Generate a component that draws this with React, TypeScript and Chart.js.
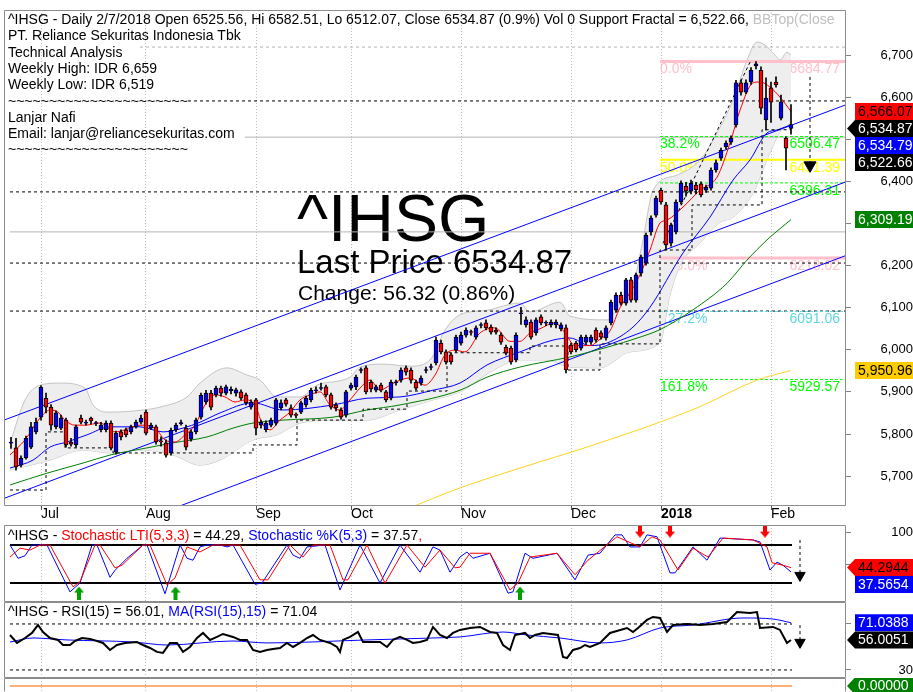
import React, { useEffect, useRef } from "react";
import { Chart, registerables } from "chart.js";

Chart.register(...registerables);

const FONT = "'Liberation Sans', Arial, Helvetica, sans-serif";
const W = 913;
const AXIS_W = 67;
const X_MIN = -1.4;
const X_MAX = 167;

// ---------- x axis (trading-day index) ----------
const monthTicks = [6, 27, 49, 68, 90, 112, 130, 152];
const monthLabels = ["Jul", "Aug", "Sep", "Oct", "Nov", "Dec", "2018", "Feb"];
const priceTicks = [5700, 5800, 5900, 6000, 6100, 6200, 6300, 6400, 6500, 6600, 6700];

// ---------- daily candles ----------
const opens = [
  5778, 5767, 5726, 5743, 5769, 5805, 5840, 5885, 5864, 5817,
  5814, 5833, 5781, 5774, 5838, 5826, 5838, 5825, 5810, 5810,
  5826, 5757, 5805, 5810, 5805, 5817, 5828, 5852, 5814, 5817,
  5784, 5779, 5755, 5810, 5824, 5814, 5788, 5805, 5840, 5876,
  5897, 5893, 5909, 5897, 5903, 5897, 5900, 5893, 5864, 5881,
  5821, 5810, 5821, 5826, 5862, 5881, 5862, 5847, 5852, 5869,
  5881, 5903, 5908, 5912, 5893, 5869, 5857, 5845, 5909, 5912,
  5951, 5957, 5923, 5904, 5916, 5900, 5885, 5922, 5928, 5957,
  5952, 5923, 5921, 5951, 5958, 5969, 6016, 5995, 5988, 5999,
  6016, 6035, 6043, 6030, 6058, 6064, 6054, 6047, 6035, 6006,
  6004, 5976, 6086, 6059, 6066, 6040, 6078, 6063, 6059, 6059,
  6050, 6052, 6011, 6016, 6004, 6018, 6018, 6047, 6040, 6028,
  6064, 6094, 6130, 6111, 6166, 6118, 6182, 6206, 6280, 6320,
  6379, 6344, 6253, 6280, 6351, 6389, 6377, 6391, 6394, 6379,
  6384, 6427, 6455, 6482, 6493, 6534, 6634, 6612, 6636, 6674,
  6664, 6546, 6622, 6636, 6550, 6503, 6525.56,
];
const highs = [
  5792, 5790, 5748, 5795, 5828, 5838, 5915, 5897, 5870, 5855,
  5845, 5838, 5790, 5821, 5845, 5833, 5840, 5830, 5828, 5831,
  5831, 5807, 5810, 5814, 5821, 5833, 5845, 5857, 5826, 5821,
  5793, 5786, 5814, 5826, 5833, 5821, 5810, 5838, 5897, 5904,
  5904, 5914, 5914, 5916, 5912, 5909, 5905, 5897, 5881, 5885,
  5833, 5831, 5838, 5885, 5881, 5885, 5869, 5850, 5878, 5890,
  5909, 5912, 5921, 5916, 5897, 5874, 5862, 5904, 5921, 5940,
  5957, 5962, 5928, 5916, 5921, 5904, 5928, 5928, 5957, 5962,
  5957, 5928, 5938, 5959, 5966, 6030, 6023, 6000, 5992, 6035,
  6042, 6052, 6047, 6057, 6064, 6071, 6059, 6052, 6040, 6011,
  6009, 6040, 6101, 6078, 6071, 6076, 6083, 6069, 6071, 6071,
  6064, 6059, 6016, 6020, 6035, 6035, 6035, 6052, 6045, 6057,
  6118, 6135, 6137, 6170, 6172, 6182, 6225, 6277, 6318, 6365,
  6384, 6350, 6301, 6356, 6401, 6398, 6403, 6398, 6399, 6391,
  6432, 6451, 6479, 6496, 6508, 6640, 6641, 6641, 6670, 6684.77,
  6672, 6646, 6636, 6648, 6605, 6506, 6582.51,
];
const lows = [
  5766, 5714, 5722, 5740, 5765, 5800, 5833, 5850, 5809, 5812,
  5810, 5769, 5771, 5769, 5824, 5821, 5824, 5820, 5805, 5805,
  5762, 5752, 5786, 5793, 5800, 5814, 5824, 5798, 5810, 5776,
  5771, 5745, 5750, 5805, 5821, 5762, 5783, 5800, 5835, 5871,
  5857, 5888, 5890, 5893, 5895, 5890, 5881, 5869, 5859, 5798,
  5814, 5805, 5817, 5821, 5857, 5866, 5840, 5838, 5848, 5864,
  5876, 5897, 5904, 5888, 5859, 5855, 5835, 5840, 5904, 5905,
  5945, 5895, 5900, 5900, 5900, 5876, 5881, 5916, 5923, 5940,
  5921, 5904, 5916, 5945, 5952, 5964, 5990, 5966, 5966, 5995,
  6011, 6030, 6035, 6025, 6052, 6047, 6037, 6037, 6013, 5988,
  5966, 5971, 6060, 6054, 6025, 6035, 6059, 6057, 6054, 6052,
  6045, 5945, 5990, 5995, 5999, 6013, 6013, 6018, 6025, 6023,
  6059, 6089, 6106, 6106, 6113, 6113, 6175, 6201, 6272, 6315,
  6346, 6237, 6246, 6275, 6346, 6365, 6370, 6370, 6363, 6374,
  6379, 6422, 6450, 6477, 6488, 6529, 6605, 6608, 6630, 6667,
  6560, 6522, 6540, 6624, 6546, 6427, 6512.07,
];
const closes = [
  5781, 5722, 5743, 5790, 5817, 5828, 5911, 5864, 5821, 5850,
  5838, 5774, 5776, 5817, 5828, 5828, 5831, 5827, 5821, 5826,
  5767, 5802, 5793, 5798, 5817, 5828, 5838, 5802, 5821, 5781,
  5781, 5750, 5809, 5821, 5827, 5769, 5805, 5833, 5892, 5897,
  5864, 5909, 5897, 5912, 5906, 5905, 5885, 5874, 5876, 5814,
  5828, 5826, 5833, 5881, 5874, 5871, 5845, 5844, 5874, 5885,
  5904, 5905, 5910, 5893, 5864, 5862, 5840, 5900, 5916, 5935,
  5953, 5900, 5907, 5912, 5904, 5881, 5923, 5924, 5952, 5947,
  5928, 5909, 5933, 5953, 5960, 6023, 5995, 5971, 5971, 6030,
  6035, 6047, 6041, 6052, 6060, 6052, 6042, 6042, 6018, 5992,
  5971, 6035, 6088, 6071, 6030, 6071, 6064, 6065, 6066, 6066,
  6059, 5952, 5995, 6000, 6030, 6030, 6030, 6023, 6030, 6052,
  6113, 6130, 6111, 6166, 6118, 6178, 6220, 6272, 6313, 6360,
  6351, 6249, 6296, 6351, 6396, 6377, 6396, 6380, 6368, 6386,
  6427, 6444, 6474, 6491, 6503, 6634, 6612, 6634, 6664, 6679,
  6574, 6598, 6588, 6629, 6589, 6478.55, 6534.87,
];

// ---------- overlays on the price pane: [day index, value] ----------
type P = [number, number];
const bbUpper: P[] = [
  [-0.2, 5778], [2.8, 5881], [5.8, 5916], [9.8, 5921], [14.8, 5909], [16.4, 5869], [19.8, 5852],
  [26.4, 5857], [29.8, 5864], [35.2, 5888], [37.8, 5921], [43.2, 5957], [47.2, 5940], [49.8, 5928],
  [53.2, 5888], [57.8, 5888], [61.2, 5916], [67.8, 5935], [69.8, 5959], [74.4, 5966], [79.8, 5961],
  [83.8, 5976], [86.8, 6047], [89.8, 6083], [95.2, 6094], [101.8, 6111], [103.8, 6090], [109.8, 6113],
  [111.8, 6080], [119.2, 6071], [121.8, 6111], [124.4, 6154], [126.4, 6261], [128.4, 6379], [133.2, 6415],
  [137.8, 6451], [141.2, 6515], [144.4, 6593], [147.2, 6688], [149.2, 6731], [150.8, 6724], [152.8, 6700],
  [153.8, 6688], [155.2, 6707], [156, 6700],
];
const bbLower: P[] = [
  [-0.2, 5714], [7.8, 5738], [14.4, 5762], [19.8, 5755], [26.4, 5762], [32.4, 5750], [37.8, 5726],
  [41.8, 5738], [48.4, 5786], [53.2, 5798], [57.8, 5826], [64.4, 5833], [71.2, 5833], [77.8, 5857],
  [84.4, 5881], [89.8, 5900], [95.8, 5947], [101.8, 5976], [106.8, 5976], [111.8, 5959], [117.8, 5957],
  [123.8, 5995], [129.8, 6018], [131.8, 6130], [133.8, 6200], [137.8, 6254], [141.8, 6303], [144.4, 6315],
  [148.4, 6372], [151.2, 6451], [153.8, 6517], [156, 6534],
];
const maRed: P[] = [
  [-0.2, 5750], [2.8, 5786], [5.8, 5838], [7.8, 5857], [9.4, 5852], [10.8, 5833], [12.8, 5821], [14.8, 5821],
  [17.8, 5826], [20.8, 5805], [22.8, 5810], [25.8, 5821], [28.8, 5814], [30.8, 5786], [32.8, 5781], [34.8, 5798],
  [36.8, 5821], [38.8, 5869], [40.8, 5893], [42.8, 5888], [44.8, 5876], [46.8, 5881], [48.8, 5869], [50.2, 5826],
  [51.8, 5810], [53.8, 5833], [55.8, 5852], [57.8, 5881], [59.8, 5893], [61.8, 5900], [63.8, 5869], [65.8, 5857],
  [67.8, 5881], [69.8, 5909], [71.8, 5928], [73.8, 5904], [75.8, 5916], [77.8, 5928], [79.8, 5933], [82.8, 5916],
  [84.8, 5940], [86.8, 5988], [88.8, 5999], [90.8, 5995], [93.8, 6040], [96.8, 6052], [99.8, 6020], [101.8, 6020],
  [103.8, 6040], [105.8, 6050], [108.8, 6064], [110.8, 6040], [112.8, 6010], [115.8, 6010], [117.8, 6025],
  [119.8, 6045], [121.8, 6100], [123.8, 6135], [125.8, 6178], [127.8, 6237], [129.8, 6301], [131.2, 6308],
  [134.4, 6339], [137.8, 6379], [141.2, 6410], [143.8, 6491], [145.8, 6569], [148.4, 6634], [149.8, 6636],
  [151.8, 6624], [153.8, 6600], [156, 6566.07],
];
const maBlue: P[] = [
  [-0.2, 5719], [4.4, 5738], [7.8, 5769], [11.2, 5781], [15.2, 5798], [19.8, 5817], [25.8, 5817], [30.4, 5805],
  [34.4, 5814], [37.8, 5828], [41.8, 5850], [48.4, 5874], [54.4, 5857], [64.4, 5869], [71.2, 5885], [77.8, 5888],
  [84.4, 5904], [89.8, 5921], [95.2, 5964], [101.8, 5995], [108.4, 6023], [111.8, 6028], [115.8, 6010],
  [119.2, 6016], [124.4, 6054], [127.8, 6101], [134.4, 6230], [139.8, 6315], [144.4, 6403], [147.8, 6451],
  [151.2, 6515], [153.2, 6522], [156, 6534.79],
];
const maGreen: P[] = [
  [-0.2, 5679], [7.2, 5707], [14.4, 5731], [19.8, 5750], [27.2, 5767], [32.4, 5779], [39.2, 5793], [44.4, 5814],
  [48.4, 5826], [54.4, 5833], [64.4, 5840], [71.2, 5857], [77.8, 5869], [89.8, 5904], [95.2, 5935], [101.8, 5959],
  [111.8, 5983], [119.2, 6006], [125.8, 6030], [129.8, 6048], [136.4, 6095], [143.2, 6158], [147.2, 6213],
  [151.2, 6261], [156, 6309.19],
];
const maYellow: P[] = [
  [78.8, 5620], [89.8, 5672], [101.8, 5719], [117.8, 5779], [137.2, 5862], [149.2, 5928], [156, 5950.96],
];
const channelTop: P[] = [[-1.4, 5833], [167, 6582]];
const channelMid: P[] = [[-1.4, 5647], [167, 6399]];
const channelLow: P[] = [[-1.4, 5472], [167, 6224]];
const supportFractal: P[] = [
  [-0.2, 5667], [7, 5805], [10.8, 5767], [20.4, 5755], [48.4, 5774], [57.2, 5833], [70.4, 5859], [79.2, 5902],
  [87.2, 5993], [103.8, 6009], [111.4, 5952], [117.8, 6014], [129.8, 6237], [136.2, 6344], [150.2, 6522.66],
  [156, 6522.66],
];
const resistanceRise: P[] = [[130.4, 6253], [147.8, 6683]];
const priceForecast: P[] = [[159.8, 6648], [159.8, 6438]];

// horizontal reference lines
const refVals = [6719, 6591, 6505, 6375, 6280, 6206, 6092];
const refFrom = [25.8, 35.4, 46.8, -0.2, -0.2, -0.2, -0.2];
const refColors = ["#B4B4B4", "#000000", "#B4B4B4", "#000000", "#B4B4B4", "#000000", "#000000"];
const refDashed = [true, true, false, true, false, true, true];

// fibonacci retracement
const fibPct = ["0.0%", "38.2%", "50.0%", "61.8%", "100.0%", "127.2%", "161.8%"];
const fibVals = [6684.77, 6506.47, 6451.39, 6396.31, 6218.02, 6091.06, 5929.57];
const fibColors = ["#FFC0CB", "#00FF00", "#FFFF00", "#00FF00", "#FFC0CB", "#5CD8E0", "#00FF00"];
const fibDashed = [false, true, false, true, false, true, true];
const fibWidth = [3, 1, 2, 1, 3, 1, 1];
const FIB_FROM = 129.8;
const FIB_LABEL_RIGHT = 165.8;

// value tags at the right edge
const mainTagVals = [6566.07, 6534.87, 6534.79, 6522.66, 6309.19, 5950.96];
const mainTagText = ["6,566.07", "6,534.87", "6,534.79", "6,522.66", "6,309.19", "5,950.96"];
const mainTagBg = ["#FF0000", "#000000", "#0000FF", "#000000", "#008000", "#FFCC00"];
const mainTagFg = ["#000000", "#FFFFFF", "#FFFFFF", "#FFFFFF", "#FFFFFF", "#000000"];
const mainTagArrow = [false, true, false, false, false, false];

// ---------- stochastic pane ----------
const stochK: P[] = [
  [-0.2, 80], [1.4, 59], [2.8, 63], [4.2, 80], [7.2, 80], [11.8, 6], [13.8, 20], [16.2, 80], [17.2, 80],
  [19.8, 29], [20.8, 40], [23.2, 59], [26.4, 80], [27.2, 80], [30.8, 3], [33.8, 80], [35.2, 59], [36.4, 56],
  [37.8, 77], [39.2, 80], [41.8, 80], [43.2, 77], [44.4, 80], [48.8, 18], [50.2, 20], [55.2, 80], [56.4, 64],
  [57.8, 59], [59.2, 77], [62.8, 80], [65.8, 9], [69.8, 80], [73.8, 20], [77.8, 80], [81.8, 37], [84.4, 77],
  [85.8, 72], [87.8, 37], [89.8, 61], [91.2, 69], [92.4, 59], [95.8, 67], [98.4, 22], [99.4, 4], [100.4, 6],
  [102.8, 67], [104.4, 59], [109.2, 67], [112.8, 25], [115.4, 64], [117.8, 67], [120.8, 96], [122.2, 96],
  [123.8, 77], [125.8, 77], [127.2, 96], [129.2, 93], [131.8, 36], [132.8, 36], [136.4, 77], [139.2, 56],
  [141.8, 91], [148.4, 88], [149.8, 85], [151.8, 40.5], [153.2, 53], [154.4, 48], [156, 37.57],
];
const stochLTI: P[] = [
  [-0.2, 61], [1.8, 75], [3.8, 72], [5.8, 80], [7.8, 80], [12.4, 14], [13.8, 22], [16.8, 80], [17.8, 80],
  [20.8, 44], [22.2, 48], [26.4, 80], [27.8, 80], [31.2, 17], [32.8, 28], [35.2, 77], [37.8, 69], [40.4, 80],
  [45.8, 80], [49.8, 25], [51.4, 25], [55.8, 80], [57.2, 69], [58.4, 61], [60.4, 80], [63.8, 80], [66.4, 25],
  [67.4, 25], [71.2, 80], [74.8, 20], [79.2, 80], [82.8, 45], [85.8, 72], [88.8, 44], [89.8, 45], [91.8, 67],
  [95.8, 67], [99.8, 9], [101.4, 20], [103.8, 61], [109.2, 67], [112.8, 33], [115.4, 56], [121.2, 93],
  [125.8, 77], [128.2, 93], [129.8, 88], [133.4, 40.5], [136.4, 75], [139.4, 61], [142.4, 91], [148.4, 88],
  [151.2, 77], [152.2, 52], [154.4, 48], [156, 44.29],
];
const stochBuy: P[] = [[13.6, 4.2], [32.9, 4.2], [101.8, 4.2]];
const stochSell: P[] = [[125.8, 102], [131.8, 102], [150.8, 102]];
const stochForecast: P[] = [[157.8, 88], [157.8, 32]];
const stochTagVals = [44.2944, 37.5654];
const stochTagText = ["44.2944", "37.5654"];

// ---------- RSI pane ----------
const rsi15: P[] = [
  [-0.2, 60.4], [1.2, 53.5], [2.8, 57.8], [4.2, 62.2], [5.4, 69.1], [6.4, 63], [7.8, 57.8], [9.4, 56.1],
  [10.4, 51.7], [11.8, 51.7], [12.8, 55.2], [14.2, 57.8], [15.8, 57], [17.2, 55.2], [18.4, 53.5], [19.8, 47.4],
  [21.2, 51.7], [22.8, 53.5], [25.2, 54.3], [26.4, 51.7], [27.8, 49.1], [29.2, 45.7], [30.4, 44.8], [31.8, 53.5],
  [33.2, 53.5], [34.4, 45.7], [35.8, 50], [37.2, 57.8], [38.4, 62.2], [39.8, 56.1], [41.2, 58.7], [42.4, 61.3],
  [44.4, 58.7], [45.8, 56.1], [47.2, 56.1], [48.4, 47.4], [49.8, 45.7], [51.2, 47.4], [52.4, 48.3], [53.8, 49.1],
  [55.2, 53.5], [56.4, 50], [57.8, 53.5], [59.2, 57.8], [60.4, 60.4], [61.8, 56.1], [63.8, 53.5], [65.2, 50],
  [65.8, 45.7], [66.4, 56.1], [67.8, 58.7], [69.4, 63], [70.4, 54.3], [73.8, 54.3], [75.2, 50], [76.4, 56.1],
  [77.8, 58.7], [79.2, 56.1], [80.4, 53.5], [81.8, 54.3], [83.2, 56.1], [84.4, 67.4], [85.8, 60.4], [87.2, 57.8],
  [88.4, 62.2], [89.8, 64.8], [91.8, 66.5], [93.8, 67.4], [95.8, 63], [97.2, 62.2], [98.4, 51.7], [99.8, 47.4],
  [100.8, 60.4], [102.8, 62.2], [103.8, 57.8], [104.8, 60.4], [106.4, 62.2], [109.4, 60.4], [110.4, 41.3],
  [111.2, 40.4], [112.4, 47.4], [113.8, 49.1], [114.8, 51.7], [115.8, 50], [117.8, 53.5], [119.8, 62.2],
  [123.2, 66.5], [124.4, 63], [125.4, 66.5], [127.2, 73.5], [128.4, 76.1], [129.8, 75.2], [131.2, 63],
  [132.4, 69.1], [135.2, 70], [137.8, 69.1], [140.4, 70], [143.2, 71.7], [145.2, 80.4], [147.8, 79.6],
  [149.2, 80.4], [149.8, 66.5], [152.4, 67.4], [153.8, 64.8], [155.2, 53.5], [156, 56.01],
];
const rsiMA: P[] = [
  [-0.2, 54.3], [4.4, 57.8], [11.2, 56.1], [24.4, 54.3], [31.2, 51.7], [44.4, 55.2], [51.2, 53.5], [71.2, 56.1],
  [84.4, 57.8], [89.8, 58.7], [98.4, 63], [103.2, 60.4], [109.8, 57.8], [117.8, 53.5], [123.2, 56.1],
  [129.8, 66.5], [136.4, 69.1], [146.4, 75.2], [152.4, 74.3], [156, 71.04],
];
const rsiForecast: P[] = [[157.8, 69], [157.8, 54]];
const rsiTagVals = [71.0388, 56.0051];
const rsiTagText = ["71.0388", "56.0051"];

// ---------- texts ----------
const headerSegs: [string, string][] = [
  ["^IHSG - Daily 2/7/2018 Open 6525.56, Hi 6582.51, Lo 6512.07, Close 6534.87 (0.9%) Vol 0 Support Fractal = 6,522.66, ", "#000000"],
  ["BBTop(Close", "#C0C0C0"],
];
const infoLines = [
  "PT. Reliance Sekuritas Indonesia Tbk",
  "Technical Analysis",
  "Weekly High: IDR 6,659",
  "Weekly Low: IDR 6,519",
  "~~~~~~~~~~~~~~~~~~~~~~",
  "Lanjar Nafi",
  "Email: lanjar@reliancesekuritas.com",
  "~~~~~~~~~~~~~~~~~~~~~~",
];
const bigTitle = "^IHSG";
const lastPriceText = "Last Price 6534.87";
const changeText = "Change: 56.32 (0.86%)";
const stochTitle: [string, string][] = [
  ["^IHSG - ", "#000000"],
  ["Stochastic LTI(5,3,3)", "#FF0000"],
  [" = 44.29, ", "#000000"],
  ["Stochastic %K(5,3)", "#0000FF"],
  [" = 37.57", "#000000"],
  [",", "#FF0000"],
];
const rsiTitle: [string, string][] = [
  ["^IHSG - RSI(15) = 56.01, ", "#000000"],
  ["MA(RSI(15),15)", "#0000FF"],
  [" = 71.04", "#000000"],
];

// ---------- helpers ----------
const pts = (a: P[]) => a.map(([x, y]) => ({ x, y }));
const flat = (v: number, from: number, to: number) => [{ x: from, y: v }, { x: to, y: v }];

function lineDs(data: any[], color: string, width = 1, extra: any = {}) {
  return {
    type: "line",
    data,
    borderColor: color,
    backgroundColor: color,
    borderWidth: width,
    pointRadius: 0,
    fill: false,
    tension: 0,
    ...extra,
  };
}

function xAxis(labels: boolean) {
  return {
    type: "linear",
    min: X_MIN,
    max: X_MAX,
    offset: false,
    afterBuildTicks: (s: any) => {
      s.ticks = monthTicks.map((v) => ({ value: v }));
    },
    afterFit: (s: any) => {
      s.height = labels ? 16 : 0;
      s.paddingLeft = 0;
      s.paddingRight = 0;
      s.paddingTop = 0;
      s.paddingBottom = 0;
    },
    ticks: {
      display: labels,
      autoSkip: false,
      maxRotation: 0,
      minRotation: 0,
      align: "start",
      padding: -4,
      color: "#000000",
      font: (c: any) => ({
        family: FONT,
        size: 14,
        weight: c.tick && c.tick.value === 130 ? "bold" : "normal",
      }),
      callback: (_v: any, i: number) => monthLabels[i],
    },
    grid: {
      display: true,
      offset: false,
      color: "#BDBDBD",
      drawTicks: labels,
      tickLength: 4,
      tickColor: "#555555",
      lineWidth: 1,
    },
    border: { display: false, dash: [1, 2] },
  };
}

function yAxis(min: number, max: number, ticks: number[], padding: number, fmt: (v: number) => string) {
  return {
    type: "linear",
    position: "right",
    min,
    max,
    afterBuildTicks: (s: any) => {
      s.ticks = ticks.map((v) => ({ value: v }));
    },
    afterFit: (s: any) => {
      s.width = AXIS_W;
      s.paddingTop = 0;
      s.paddingBottom = 0;
      s.paddingLeft = 0;
      s.paddingRight = 0;
    },
    ticks: {
      autoSkip: false,
      color: "#000000",
      font: { family: FONT, size: 13 },
      crossAlign: "far",
      padding,
      callback: (v: number) => fmt(v),
    },
    grid: { display: true, drawOnChartArea: false, drawTicks: true, tickLength: 5, color: "#808080" },
    border: { display: false },
  };
}

function richText(ctx: CanvasRenderingContext2D, x: number, y: number, segs: [string, string][]) {
  let cx = x;
  for (const [t, c] of segs) {
    ctx.fillStyle = c;
    ctx.fillText(t, cx, y);
    cx += ctx.measureText(t).width;
  }
}

function drawFrame(chart: any, bottom = true) {
  const { ctx, chartArea: a } = chart;
  ctx.save();
  ctx.strokeStyle = "#8C8C8C";
  ctx.lineWidth = 1;
  ctx.beginPath();
  ctx.moveTo(a.left + 0.5, a.bottom - 0.5);
  ctx.lineTo(a.left + 0.5, a.top + 0.5);
  ctx.lineTo(a.right - 0.5, a.top + 0.5);
  ctx.lineTo(a.right - 0.5, a.bottom - 0.5);
  if (bottom) ctx.lineTo(a.left + 0.5, a.bottom - 0.5);
  ctx.stroke();
  ctx.restore();
}

function drawTags(
  chart: any,
  vals: number[],
  texts: string[],
  bgs: string[],
  fgs: string[],
  arrows: boolean[]
) {
  const { ctx, chartArea: a } = chart;
  const ys = chart.scales.y;
  const h = 17;
  const items = vals
    .map((v, k) => ({ k, py: ys.getPixelForValue(v) }))
    .sort((p, q) => p.py - q.py || p.k - q.k);
  let prev = -1e9;
  ctx.save();
  ctx.font = `14px ${FONT}`;
  ctx.textBaseline = "middle";
  ctx.textAlign = "left";
  for (const it of items) {
    const y = Math.max(it.py, prev + h);
    prev = y;
    const x0 = a.right + 9;
    ctx.fillStyle = bgs[it.k];
    ctx.beginPath();
    if (arrows[it.k]) {
      ctx.moveTo(a.right + 1, y);
      ctx.lineTo(x0, y - h / 2);
      ctx.lineTo(W, y - h / 2);
      ctx.lineTo(W, y + h / 2);
      ctx.lineTo(x0, y + h / 2);
      ctx.closePath();
    } else {
      ctx.rect(x0, y - h / 2, W - x0, h);
    }
    ctx.fill();
    ctx.fillStyle = fgs[it.k];
    ctx.fillText(texts[it.k], x0 + 3, y + 0.5);
  }
  ctx.restore();
}

function arrowImg(color: string, up: boolean) {
  const c = document.createElement("canvas");
  c.width = 10;
  c.height = 13;
  const g = c.getContext("2d")!;
  g.fillStyle = color;
  g.beginPath();
  if (up) {
    g.moveTo(5, 0);
    g.lineTo(10, 6);
    g.lineTo(0, 6);
  } else {
    g.moveTo(5, 13);
    g.lineTo(10, 7);
    g.lineTo(0, 7);
  }
  g.closePath();
  g.fill();
  if (up) g.fillRect(3, 6, 4, 7);
  else g.fillRect(3, 0, 4, 7);
  return c;
}

const baseOptions = {
  responsive: false,
  animation: false,
  events: [],
  plugins: { legend: { display: false }, tooltip: { enabled: false } },
};

// ---------- main price chart ----------
function mainConfig() {
  const bodies = opens.map((o, i) => ({ x: i, y: [o, closes[i]] }));
  const bodyColors = opens.map((o, i) => (closes[i] >= o ? "#0000FF" : "#FF0000"));
  const wicks = lows.map((l, i) => ({ x: i, y: [l, highs[i]] }));

  const datasets: any[] = [
    lineDs(pts(bbUpper), "#C4C4C4", 1, {
      fill: "+1",
      backgroundColor: "#EEEEEE",
      cubicInterpolationMode: "monotone",
      order: 60,
    }),
    lineDs(pts(bbLower), "#C4C4C4", 1, { cubicInterpolationMode: "monotone", order: 60 }),
  ];
  refVals.forEach((v, k) => {
    datasets.push(
      lineDs(flat(v, refFrom[k], X_MAX), refColors[k], 1, {
        borderDash: refDashed[k] ? [3, 3] : [],
        order: 50,
      })
    );
  });
  fibVals.forEach((v, k) => {
    datasets.push(
      lineDs(flat(v, FIB_FROM, X_MAX), fibColors[k], fibWidth[k], {
        borderDash: fibDashed[k] ? [3, 2] : [],
        order: 45,
      })
    );
  });
  datasets.push(
    lineDs(pts(channelTop), "#0000FF", 1, { order: 40 }),
    lineDs(pts(channelMid), "#0000FF", 1, { order: 40 }),
    lineDs(pts(channelLow), "#0000FF", 1, { order: 40 }),
    lineDs(pts(maYellow), "#FFD21F", 1, { cubicInterpolationMode: "monotone", order: 35 }),
    lineDs(pts(maGreen), "#008000", 1, { cubicInterpolationMode: "monotone", order: 35 }),
    lineDs(pts(maBlue), "#0000FF", 1, { cubicInterpolationMode: "monotone", order: 35 }),
    lineDs(pts(maRed), "#FF0000", 1, { cubicInterpolationMode: "monotone", order: 34 }),
    lineDs(pts(supportFractal), "#000000", 1, { stepped: "before", borderDash: [3, 3], order: 30 }),
    lineDs(pts(resistanceRise), "#000000", 1, { borderDash: [3, 3], order: 30 }),
    lineDs(pts(priceForecast), "#000000", 1, {
      borderDash: [3, 3],
      pointRadius: [0, 7],
      pointStyle: "triangle",
      rotation: 180,
      pointBackgroundColor: "#000000",
      pointBorderColor: "#000000",
      order: 20,
    }),
    {
      type: "bar",
      data: wicks,
      backgroundColor: "#000000",
      borderWidth: 0,
      barThickness: 1,
      grouped: false,
      order: 10,
    },
    {
      type: "bar",
      data: bodies,
      backgroundColor: bodyColors,
      borderColor: "#000000",
      borderWidth: 1,
      borderSkipped: false,
      barThickness: 4,
      grouped: false,
      order: 5,
    }
  );

  const deco = {
    id: "mainDeco",
    beforeDatasetsDraw(chart: any) {
      const { ctx, chartArea: a } = chart;
      const xs = chart.scales.x;
      const ys = chart.scales.y;
      ctx.save();
      ctx.beginPath();
      ctx.rect(a.left, a.top, a.right - a.left, a.bottom - a.top);
      ctx.clip();
      ctx.textAlign = "left";
      ctx.textBaseline = "alphabetic";
      ctx.font = `14px ${FONT}`;
      richText(ctx, 8, 24, headerSegs);
      ctx.fillStyle = "#000000";
      infoLines.forEach((t, k) => ctx.fillText(t, 8, 40.3 + 16.3 * k));
      ctx.font = `66px ${FONT}`;
      ctx.fillText(bigTitle, 297, 241);
      ctx.font = `33px ${FONT}`;
      ctx.fillText(lastPriceText, 297, 273);
      ctx.font = `21px ${FONT}`;
      ctx.fillText(changeText, 298, 300);
      // fibonacci labels
      ctx.font = `14px ${FONT}`;
      ctx.textBaseline = "top";
      fibVals.forEach((v, k) => {
        const y = ys.getPixelForValue(v) + 1;
        ctx.fillStyle = fibColors[k];
        ctx.textAlign = "left";
        ctx.fillText(fibPct[k], xs.getPixelForValue(FIB_FROM), y);
        ctx.textAlign = "right";
        ctx.fillText(v.toFixed(2), xs.getPixelForValue(FIB_LABEL_RIGHT), y);
      });
      ctx.restore();
    },
    afterDraw(chart: any) {
      drawFrame(chart);
      drawTags(chart, mainTagVals, mainTagText, mainTagBg, mainTagFg, mainTagArrow);
    },
  };

  return {
    type: "bar",
    data: { datasets },
    options: {
      ...baseOptions,
      layout: { autoPadding: false, padding: { top: 10, left: 4, right: 0, bottom: 0 } },
      scales: {
        x: xAxis(true),
        y: yAxis(5629, 6807, priceTicks, 22, (v) => v.toLocaleString("en-US")),
      },
    },
    plugins: [deco],
  };
}

// ---------- stochastic ----------
function stochConfig(buyImg: any, sellImg: any) {
  const deco = {
    id: "stochDeco",
    beforeDatasetsDraw(chart: any) {
      const { ctx } = chart;
      ctx.save();
      ctx.font = `14px ${FONT}`;
      ctx.textBaseline = "alphabetic";
      ctx.textAlign = "left";
      richText(ctx, 8, 15, stochTitle);
      ctx.restore();
    },
    afterDraw(chart: any) {
      drawFrame(chart);
      drawTags(chart, stochTagVals, stochTagText, ["#FF0000", "#0000FF"], ["#000000", "#FFFFFF"], [true, false]);
    },
  };
  return {
    type: "line",
    data: {
      datasets: [
        lineDs(flat(80, -0.2, 156.2), "#000000", 2, { order: 30 }),
        lineDs(flat(20, -0.2, 156.2), "#000000", 2, { order: 30 }),
        lineDs(pts(stochK), "#0000FF", 1, { order: 20 }),
        lineDs(pts(stochLTI), "#FF0000", 1, { order: 19 }),
        lineDs(pts(stochBuy), "#008000", 1, { showLine: false, pointRadius: 6, pointStyle: buyImg, order: 5 }),
        lineDs(pts(stochSell), "#FF0000", 1, { showLine: false, pointRadius: 6, pointStyle: sellImg, order: 5 }),
        lineDs(pts(stochForecast), "#000000", 1, {
          borderDash: [3, 3],
          pointRadius: [0, 6],
          pointStyle: "triangle",
          rotation: 180,
          pointBackgroundColor: "#000000",
          order: 4,
        }),
      ],
    },
    options: {
      ...baseOptions,
      layout: { autoPadding: false, padding: { top: 0, left: 4, right: 0, bottom: 0 } },
      scales: {
        x: xAxis(false),
        y: yAxis(-10, 111.6, [100, 50], 34, (v) => String(v)),
      },
    },
    plugins: [deco],
  };
}

// ---------- RSI ----------
function rsiConfig() {
  const deco = {
    id: "rsiDeco",
    beforeDatasetsDraw(chart: any) {
      const { ctx } = chart;
      ctx.save();
      ctx.font = `14px ${FONT}`;
      ctx.textBaseline = "alphabetic";
      ctx.textAlign = "left";
      richText(ctx, 8, 14, rsiTitle);
      ctx.restore();
    },
    afterDraw(chart: any) {
      drawFrame(chart);
      drawTags(chart, rsiTagVals, rsiTagText, ["#0000FF", "#000000"], ["#FFFFFF", "#FFFFFF"], [false, true]);
    },
  };
  return {
    type: "line",
    data: {
      datasets: [
        lineDs(flat(70, -0.2, 156.2), "#000000", 1, { borderDash: [3, 3], order: 30 }),
        lineDs(flat(30, -0.2, 156.2), "#000000", 1, { borderDash: [3, 3], order: 30 }),
        lineDs(pts(rsiMA), "#0000FF", 1, { cubicInterpolationMode: "monotone", order: 20 }),
        lineDs(pts(rsi15), "#000000", 2, { order: 10 }),
        lineDs(pts(rsiForecast), "#000000", 1, {
          borderDash: [3, 3],
          pointRadius: [0, 6],
          pointStyle: "triangle",
          rotation: 180,
          pointBackgroundColor: "#000000",
          order: 4,
        }),
      ],
    },
    options: {
      ...baseOptions,
      layout: { autoPadding: false, padding: { top: 0, left: 4, right: 0, bottom: 0 } },
      scales: {
        x: xAxis(false),
        y: yAxis(23, 89.1, [70, 30], 41, (v) => String(v)),
      },
    },
    plugins: [deco],
  };
}

// ---------- bottom strip ----------
function bottomConfig() {
  const deco = {
    id: "botDeco",
    afterDraw(chart: any) {
      drawFrame(chart, false);
      drawTags(chart, [0], ["0.00000"], ["#008000"], ["#FFFFFF"], [true]);
    },
  };
  return {
    type: "line",
    data: {
      datasets: [lineDs(flat(0, -0.2, 156.2), "#FFB07A", 2)],
    },
    options: {
      ...baseOptions,
      layout: { autoPadding: false, padding: { top: 0, left: 4, right: 0, bottom: 0 } },
      scales: {
        x: xAxis(false),
        y: { ...yAxis(-0.75, 1, [], 0, (v) => String(v)), ticks: { display: false } },
      },
    },
    plugins: [deco],
  };
}

export default function App() {
  const mainRef = useRef<HTMLCanvasElement>(null);
  const stoRef = useRef<HTMLCanvasElement>(null);
  const rsiRef = useRef<HTMLCanvasElement>(null);
  const botRef = useRef<HTMLCanvasElement>(null);

  useEffect(() => {
    const buy = arrowImg("#00A000", true);
    const sell = arrowImg("#FF0000", false);
    const charts: Chart[] = [];
    charts.push(new Chart(mainRef.current as any, mainConfig() as any));
    charts.push(new Chart(stoRef.current as any, stochConfig(buy, sell) as any));
    charts.push(new Chart(rsiRef.current as any, rsiConfig() as any));
    charts.push(new Chart(botRef.current as any, bottomConfig() as any));
    return () => charts.forEach((c) => c.destroy());
  }, []);

  const cs = (top: number, h: number): React.CSSProperties => ({
    position: "absolute",
    left: 0,
    top,
    width: W,
    height: h,
    display: "block",
  });

  return (
    <div style={{ position: "absolute", left: 0, top: 0, width: W, height: 692, background: "#FFFFFF", overflow: "hidden" }}>
      <canvas ref={mainRef} width={W} height={522} style={cs(0, 522)} />
      <canvas ref={stoRef} width={W} height={77} style={cs(525, 77)} />
      <canvas ref={rsiRef} width={W} height={76} style={cs(602, 76)} />
      <canvas ref={botRef} width={W} height={14} style={cs(678, 14)} />
    </div>
  );
}
